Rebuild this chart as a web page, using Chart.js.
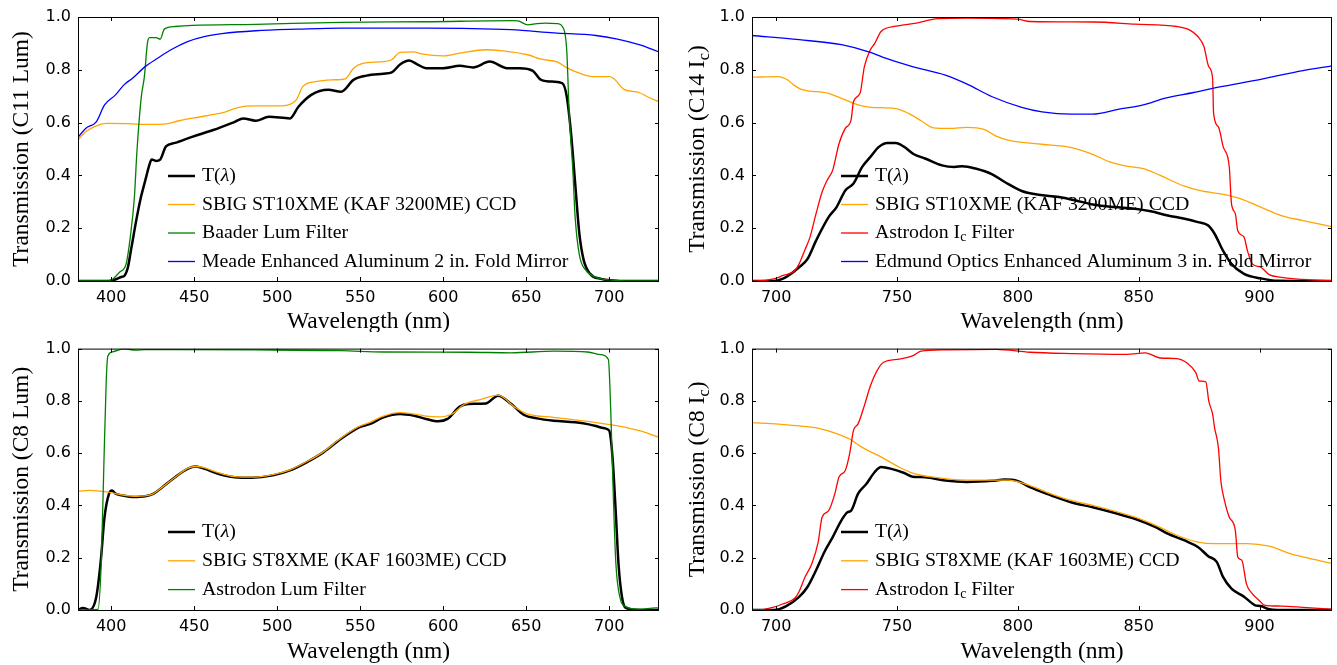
<!DOCTYPE html>
<html><head><meta charset="utf-8">
<script src="https://cdn.jsdelivr.net/npm/chart.js@4.4.1/dist/chart.umd.min.js"></script>
<style>
html,body{margin:0;padding:0;background:#fff;}
body{width:1337px;height:665px;position:relative;overflow:hidden;}
canvas{position:absolute;}
</style></head><body>
<canvas id="c1" width="668" height="332" style="left:0;top:0"></canvas>
<canvas id="c2" width="669" height="332" style="left:668px;top:0"></canvas>
<canvas id="c3" width="668" height="333" style="left:0;top:332px"></canvas>
<canvas id="c4" width="669" height="333" style="left:668px;top:332px"></canvas>
<script>
// ---------- tick labels ----------
const yTicks = [0, 0.2, 0.4, 0.6, 0.8, 1.0];
const xTicksVis = [400, 450, 500, 550, 600, 650, 700];
const xTicksIR = [700, 750, 800, 850, 900];

// ---------- Panel 1: C11 Lum ----------
const c11_T_wl = [380,398,402,406,408,410,412,415.4,418,420.5,423,424.4,427,429.5,433,438.5,448.7,461.5,474.4,479.5,487,495,507.7,512.8,520.5,530.8,538.5,546,553.8,564,569,574,579.5,584.6,589.7,600,610,618,628,638.5,646,654,659,666.7,671.8,674.4,677,679.5,682,684.6,688.5,695,702.5,710,730];
const c11_T = [0,0,0.005,0.015,0.02,0.05,0.12,0.24,0.32,0.38,0.44,0.46,0.455,0.46,0.51,0.523,0.546,0.572,0.603,0.616,0.607,0.622,0.616,0.66,0.705,0.724,0.717,0.762,0.778,0.785,0.79,0.82,0.835,0.82,0.806,0.806,0.815,0.809,0.831,0.806,0.806,0.796,0.762,0.755,0.749,0.70,0.56,0.37,0.18,0.08,0.027,0.008,0.002,0,0];
const c11_ccd_wl = [380,384.6,389.7,397.4,410,423,432,441,456.4,469,477,487,500,507.7,511.5,515.4,523,533,541,546,551,564,569,574,582,587,600,610,625.6,636,651,659,669,674,682,690,700,702.5,709,718,723,730];
const c11_ccd = [0.534,0.565,0.584,0.597,0.596,0.593,0.594,0.607,0.625,0.641,0.658,0.663,0.663,0.669,0.686,0.736,0.755,0.762,0.766,0.806,0.823,0.831,0.838,0.866,0.868,0.86,0.853,0.863,0.876,0.872,0.857,0.84,0.829,0.809,0.787,0.774,0.774,0.768,0.726,0.714,0.698,0.679];
const c11_lum_wl = [380,398,400,405,409,411.5,414,415.4,418,420,421.8,423,427,429.5,432,438.5,448.7,487,538.5,589.7,641,645,651,656.4,661.5,669,671.8,674.4,676,678,679.5,682,686,692,702.5,710,730];
const c11_lum = [0,0,0.003,0.033,0.065,0.166,0.32,0.48,0.69,0.775,0.90,0.922,0.922,0.916,0.954,0.964,0.968,0.972,0.98,0.982,0.986,0.985,0.97,0.975,0.977,0.975,0.964,0.876,0.62,0.43,0.24,0.10,0.04,0.014,0.003,0,0];
const c11_mir_wl = [380,384.6,391,396,402.6,407.7,412.8,420.5,428,436,446,456,466.7,487,512.8,538.5,589.7,641,666.7,692,705,718,730];
const c11_mir = [0.544,0.578,0.603,0.667,0.705,0.743,0.768,0.812,0.844,0.876,0.907,0.926,0.937,0.948,0.954,0.958,0.958,0.952,0.94,0.93,0.916,0.895,0.868];

// ---------- Panel 2: C14 Ic ----------
const c14_T_wl = [690,699,702.6,705,709.5,713,716.5,721.7,725,728.6,732,735.6,739,742.5,746,749.5,753,757,761.6,768.6,773.8,777,782.5,789.4,794.6,801.6,808.5,817,824,831,839.8,848.4,855,862,869,874.5,878.8,881.4,884.9,888.4,893.6,900.5,907.5,930];
const c14_T = [0,0,0.008,0.02,0.052,0.084,0.153,0.242,0.28,0.343,0.369,0.432,0.47,0.508,0.523,0.523,0.508,0.48,0.464,0.438,0.432,0.435,0.426,0.404,0.375,0.341,0.327,0.318,0.305,0.29,0.28,0.274,0.264,0.248,0.236,0.223,0.21,0.179,0.115,0.065,0.027,0.01,0.001,0];
const c14_ccd_wl = [690,700.9,704.3,707.8,710.4,721.7,727,733.9,739,749.5,754.7,760,765,772,779,786,791,796,810,820.7,831,838,845,852,858.9,869,876,885,892,900.5,909,918,930];
const c14_ccd = [0.772,0.774,0.764,0.739,0.726,0.711,0.692,0.667,0.658,0.653,0.635,0.607,0.58,0.578,0.582,0.574,0.549,0.534,0.518,0.508,0.48,0.451,0.435,0.426,0.40,0.359,0.341,0.328,0.312,0.28,0.248,0.229,0.206];
const c14_ic_wl = [690,692,699,702.6,707.8,709.5,712,714,716.5,719,721,723.4,726,728.6,731,732,734.7,736.5,739,740.8,743.4,749.5,758,767,779,799.8,805,831,848.4,865.8,871,874.5,877,879,880.6,881,883,885,887.5,888.4,890,891,893.6,895,897,900.5,904,909,918,930];
const c14_ic = [0,0,0.008,0.02,0.04,0.065,0.12,0.166,0.255,0.337,0.38,0.42,0.52,0.578,0.61,0.68,0.711,0.812,0.876,0.90,0.945,0.965,0.977,0.994,0.996,0.992,0.983,0.981,0.973,0.964,0.951,0.926,0.888,0.812,0.768,0.635,0.584,0.508,0.432,0.293,0.255,0.19,0.166,0.115,0.065,0.052,0.024,0.014,0.006,0.001];
const c14_mir_wl = [690,709.5,727,739,744,756.4,770,779,789.4,801.6,810,822,831,841.5,851.9,860.6,872.7,883,900.5,918,930];
const c14_mir = [0.93,0.914,0.895,0.866,0.848,0.812,0.78,0.746,0.698,0.658,0.641,0.632,0.632,0.65,0.667,0.692,0.714,0.734,0.764,0.797,0.815];

// ---------- Panel 3: C8 Lum ----------
const c8l_T_wl = [380,383,387,391,393.6,396,398.7,400.5,402.6,406.4,413,420.5,425.6,430.8,438.5,446,451,456.4,464,474.4,484.6,497.4,507.7,518,528,538.5,548.7,556,564,574,582,589.7,597,602.6,610,615,625.6,633,641,648.7,656.4,666.7,679.5,687,692,695,697.4,700,702,704,705.6,707.7,710,718,730];
const c8l_T = [0,0.008,0,0.05,0.18,0.356,0.445,0.457,0.445,0.439,0.432,0.435,0.445,0.47,0.508,0.54,0.549,0.54,0.522,0.508,0.506,0.515,0.534,0.566,0.604,0.655,0.697,0.712,0.737,0.75,0.744,0.731,0.722,0.731,0.778,0.788,0.79,0.82,0.788,0.746,0.733,0.724,0.718,0.711,0.704,0.698,0.695,0.686,0.584,0.368,0.177,0.05,0.008,0,0];
const c8l_ccd_wl = [380,387,397.4,407.7,415,424,430.8,438.5,446,451,456.4,464,474.4,484.6,497.4,507.7,518,528,538.5,548.7,556,564,574,582,589.7,597,605,612.8,623,633,643.6,651,666.7,692,702.5,715,723,730];
const c8l_ccd = [0.454,0.458,0.452,0.439,0.435,0.441,0.47,0.508,0.542,0.549,0.544,0.526,0.51,0.508,0.518,0.536,0.568,0.606,0.658,0.70,0.718,0.742,0.755,0.75,0.742,0.739,0.749,0.787,0.806,0.822,0.774,0.749,0.737,0.717,0.707,0.691,0.677,0.66];
const c8l_lum_wl = [380,392,394,395.6,397,398,401,407.7,415,420.5,436,487,538.5,564,615,641,666.7,687,695,699.5,701,702.5,704,706.4,710,718,728,730];
const c8l_lum = [0,0.002,0.18,0.56,0.876,0.972,0.988,0.999,0.994,0.996,0.996,0.995,0.992,0.987,0.986,0.984,0.99,0.987,0.977,0.958,0.75,0.43,0.18,0.05,0.013,0.003,0.008,0.008];

// ---------- Panel 4: C8 Ic ----------
const c8i_T_wl = [690,699,704,709.5,713,716.5,720,723.4,727,729.5,731,733.9,737.3,740.8,743.4,747.7,753,756.4,761.6,770,779,789.4,794.6,799.8,805,813.7,822,831,839.8,848.4,857,862,869,874.5,878.8,882.3,884.9,888.4,893.6,898,900.5,904,907.5,930];
const c8i_T = [0,0,0.014,0.05,0.089,0.152,0.223,0.279,0.343,0.374,0.38,0.445,0.482,0.528,0.547,0.54,0.524,0.51,0.508,0.495,0.49,0.494,0.499,0.494,0.47,0.439,0.412,0.393,0.372,0.349,0.317,0.292,0.266,0.241,0.206,0.184,0.127,0.082,0.051,0.019,0.015,0.003,0,0];
const c8i_ccd_wl = [690,700.9,709.5,718,725,730.4,735.6,744.3,751,756.4,765,779,796,805,813.7,822,831,848.4,857,865.8,874.5,881.4,895,904,912.7,918,930];
const c8i_ccd = [0.717,0.711,0.704,0.694,0.675,0.654,0.622,0.581,0.546,0.524,0.508,0.497,0.497,0.476,0.444,0.419,0.40,0.355,0.324,0.286,0.26,0.254,0.254,0.244,0.216,0.203,0.178];
const c8i_ic_wl = [690,692,699,702.6,707.8,709.5,712,714.8,717.4,719,721.7,724.3,726,728.6,730.4,732,733.9,736.5,739,741.7,744.3,751,756.4,760,770,791,805,822,845,852.8,858.9,865.8,870,873.6,875,877.8,879,880.6,881.4,883,884,885.5,887.5,890,891,892.7,894.6,897,899.7,902,909,918,930];
const c8i_ic = [0,0,0.011,0.023,0.046,0.071,0.127,0.178,0.261,0.355,0.38,0.445,0.509,0.534,0.598,0.687,0.712,0.782,0.858,0.915,0.947,0.96,0.972,0.99,0.995,0.997,0.986,0.981,0.978,0.984,0.964,0.962,0.945,0.909,0.876,0.873,0.80,0.749,0.698,0.62,0.495,0.419,0.355,0.305,0.203,0.19,0.10,0.063,0.038,0.019,0.015,0.01,0.003];

// ---------- styles ----------
const SERIF = '"Liberation Serif"';
const TICK_FONT = {family: "'DejaVu Sans'", size: 16};
const TITLE_SIZE = 23.5;
const LEG_SIZE = 19.8;
const COL = {T: '#000000', ccd: '#FFA500', lum: '#008000', ic: '#FF0000', mir: '#0000FF'};

function drawRich(ctx, segs, x, y, size, align) {
  let w = 0;
  const info = segs.map(([t, k]) => {
    const s = k === 'sub' ? size * 0.7 : size;
    const f = (k === 'i' ? 'italic ' : '') + s + 'px ' + SERIF;
    ctx.font = f;
    const mw = ctx.measureText(t).width;
    w += mw;
    return {f, mw, dy: k === 'sub' ? size * 0.22 : 0};
  });
  let cx = align === 'center' ? x - w / 2 : x;
  segs.forEach(([t], i) => {
    ctx.font = info[i].f;
    ctx.fillText(t, cx, y + info[i].dy);
    cx += info[i].mw;
  });
}

const decor = {
  id: 'decor',
  afterDraw(chart, args, o) {
    const ctx = chart.ctx, a = chart.chartArea;
    const xs = chart.scales.x, ys = chart.scales.y;
    ctx.save();
    ctx.strokeStyle = '#000';
    ctx.lineWidth = 1;
    ctx.strokeRect(a.left + 0.5, a.top + 0.5, a.right - a.left - 1, a.bottom - a.top);
    ctx.beginPath();
    xs.ticks.forEach(t => {
      const p = Math.round(xs.getPixelForValue(t.value)) + 0.5;
      ctx.moveTo(p, a.bottom); ctx.lineTo(p, a.bottom - 4);
      ctx.moveTo(p, a.top); ctx.lineTo(p, a.top + 4);
    });
    ys.ticks.forEach(t => {
      const p = Math.round(ys.getPixelForValue(t.value)) + 0.5;
      ctx.moveTo(a.left, p); ctx.lineTo(a.left + 4, p);
      ctx.moveTo(a.right, p); ctx.lineTo(a.right - 4, p);
    });
    ctx.stroke();
    ctx.fillStyle = '#000';
    ctx.textBaseline = 'alphabetic';
    // x title
    drawRich(ctx, [['Wavelength (nm)', '']], (a.left + a.right) / 2, o.xTitleY, TITLE_SIZE, 'center');
    // y title
    ctx.save();
    ctx.translate(o.yTitleX, (a.top + a.bottom) / 2);
    ctx.rotate(-Math.PI / 2);
    drawRich(ctx, o.yTitle, 0, 0, TITLE_SIZE, 'center');
    ctx.restore();
    // legend
    ctx.textBaseline = 'middle';
    o.legend.forEach((item, i) => {
      const ds = chart.data.datasets[i];
      const y = o.legY0 + i * o.legDy;
      ctx.beginPath();
      ctx.strokeStyle = ds.borderColor;
      ctx.lineWidth = ds.borderWidth;
      ctx.moveTo(o.legX, y); ctx.lineTo(o.legX + 27, y);
      ctx.stroke();
      ctx.fillStyle = '#000';
      drawRich(ctx, item, o.legX + 34, y, LEG_SIZE, 'left');
    });
    ctx.restore();
  }
};

function makePanel(id, o) {
  const datasets = o.series.map((s, i) => ({
    label: s.label,
    data: s.wl.map((w, k) => ({x: w, y: s.v[k]})),
    borderColor: s.color,
    borderWidth: s.width,
    pointRadius: 0,
    fill: false,
    cubicInterpolationMode: 'monotone',
    order: 10 - i
  }));
  new Chart(document.getElementById(id), {
    type: 'line',
    data: {datasets},
    options: {
      responsive: false, animation: false, devicePixelRatio: 1,
      layout: {padding: {left: 0, right: o.padR, top: o.padT, bottom: 0}},
      plugins: {legend: {display: false}, tooltip: {enabled: false},
        decor: {xTitleY: o.xTitleY, yTitleX: o.yTitleX, yTitle: o.yTitle, legend: o.legend, legX: o.legX, legY0: o.legY0, legDy: o.legDy}},
      scales: {
        x: {type: 'linear', min: o.xMin, max: o.xMax,
            afterBuildTicks: s => { s.ticks = o.xTicks.map(v => ({value: v})); },
            afterFit: s => { s.height = o.xH; },
            grid: {display: false, drawTicks: false, tickLength: 0}, border: {display: false},
            ticks: {font: TICK_FONT, color: '#000', padding: 7, maxRotation: 0, autoSkip: false, callback: v => String(v)}},
        y: {type: 'linear', min: 0, max: 1,
            afterBuildTicks: s => { s.ticks = yTicks.map(v => ({value: v})); },
            afterFit: s => { s.width = o.yW; },
            grid: {display: false, drawTicks: false, tickLength: 0}, border: {display: false},
            ticks: {font: TICK_FONT, color: '#000', padding: 7, autoSkip: false, callback: v => Number(v).toFixed(1)}}
      }
    },
    plugins: [decor]
  });
}

const legT = [['T(', ''], ['λ', 'i'], [')', '']];

makePanel('c1', {
  xMin: 380, xMax: 730, xTicks: xTicksVis, yW: 78, xH: 51, padR: 9, padT: 17,
  xTitleY: 328, yTitleX: 28, yTitle: [['Transmission (C11 Lum)', '']],
  legX: 168, legY0: 176, legDy: 28.5,
  legend: [legT, [['SBIG ST10XME (KAF 3200ME) CCD', '']], [['Baader Lum Filter', '']], [['Meade Enhanced Aluminum 2 in. Fold Mirror', '']]],
  series: [
    {label: 'T(λ)', wl: c11_T_wl, v: c11_T, color: COL.T, width: 2.5},
    {label: 'SBIG ST10XME (KAF 3200ME) CCD', wl: c11_ccd_wl, v: c11_ccd, color: COL.ccd, width: 1.3},
    {label: 'Baader Lum Filter', wl: c11_lum_wl, v: c11_lum, color: COL.lum, width: 1.3},
    {label: 'Meade Enhanced Aluminum 2 in. Fold Mirror', wl: c11_mir_wl, v: c11_mir, color: COL.mir, width: 1.3}
  ]
});
makePanel('c2', {
  xMin: 690, xMax: 930, xTicks: xTicksIR, yW: 84, xH: 51, padR: 5, padT: 17,
  xTitleY: 328, yTitleX: 36, yTitle: [['Transmission (C14 I', ''], ['c', 'sub'], [')', '']],
  legX: 173, legY0: 176, legDy: 28.5,
  legend: [legT, [['SBIG ST10XME (KAF 3200ME) CCD', '']], [['Astrodon I', ''], ['c', 'sub'], [' Filter', '']], [['Edmund Optics Enhanced Aluminum 3 in. Fold Mirror', '']]],
  series: [
    {label: 'T(λ)', wl: c14_T_wl, v: c14_T, color: COL.T, width: 2.5},
    {label: 'SBIG ST10XME (KAF 3200ME) CCD', wl: c14_ccd_wl, v: c14_ccd, color: COL.ccd, width: 1.3},
    {label: 'Astrodon Ic Filter', wl: c14_ic_wl, v: c14_ic, color: COL.ic, width: 1.3},
    {label: 'Edmund Optics Enhanced Aluminum 3 in. Fold Mirror', wl: c14_mir_wl, v: c14_mir, color: COL.mir, width: 1.3}
  ]
});
makePanel('c3', {
  xMin: 380, xMax: 730, xTicks: xTicksVis, yW: 78, xH: 55, padR: 9, padT: 15,
  xTitleY: 326, yTitleX: 28, yTitle: [['Transmission (C8 Lum)', '']],
  legX: 168, legY0: 200, legDy: 28.8,
  legend: [legT, [['SBIG ST8XME (KAF 1603ME) CCD', '']], [['Astrodon Lum Filter', '']]],
  series: [
    {label: 'T(λ)', wl: c8l_T_wl, v: c8l_T, color: COL.T, width: 2.5},
    {label: 'SBIG ST8XME (KAF 1603ME) CCD', wl: c8l_ccd_wl, v: c8l_ccd, color: COL.ccd, width: 1.3},
    {label: 'Astrodon Lum Filter', wl: c8l_lum_wl, v: c8l_lum, color: COL.lum, width: 1.3}
  ]
});
makePanel('c4', {
  xMin: 690, xMax: 930, xTicks: xTicksIR, yW: 84, xH: 55, padR: 5, padT: 15,
  xTitleY: 326, yTitleX: 36, yTitle: [['Transmission (C8 I', ''], ['c', 'sub'], [')', '']],
  legX: 173, legY0: 200, legDy: 28.8,
  legend: [legT, [['SBIG ST8XME (KAF 1603ME) CCD', '']], [['Astrodon I', ''], ['c', 'sub'], [' Filter', '']]],
  series: [
    {label: 'T(λ)', wl: c8i_T_wl, v: c8i_T, color: COL.T, width: 2.5},
    {label: 'SBIG ST8XME (KAF 1603ME) CCD', wl: c8i_ccd_wl, v: c8i_ccd, color: COL.ccd, width: 1.3},
    {label: 'Astrodon Ic Filter', wl: c8i_ic_wl, v: c8i_ic, color: COL.ic, width: 1.3}
  ]
});
</script>
</body></html>
